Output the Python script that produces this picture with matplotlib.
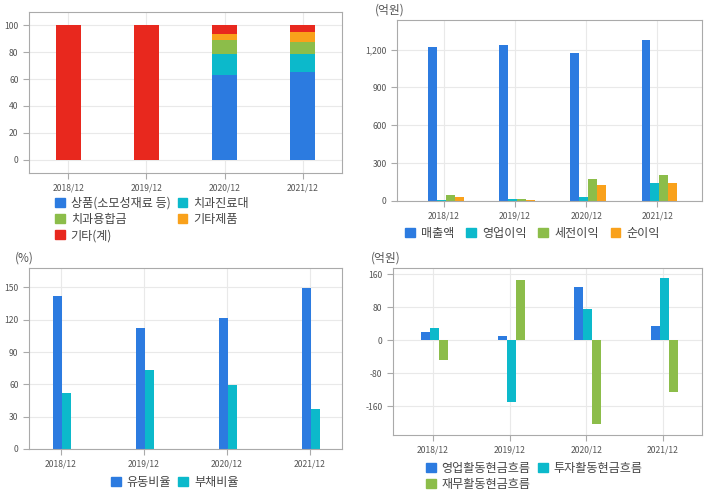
import matplotlib.pyplot as plt
import matplotlib as mpl
import numpy as np

mpl.rcParams["font.family"] = ["Noto Sans CJK KR", "DejaVu Sans"]
mpl.rcParams["axes.unicode_minus"] = False

years = ["2018/12", "2019/12", "2020/12", "2021/12"]

# 매출구성 (%)
mix_labels = ["상품(소모성재료 등)", "치과진료대", "치과용합금", "기타제품", "기타(계)"]
mix_goods = [0, 0, 63.0, 65.5]
mix_chair = [0, 0, 15.6, 13.3]
mix_alloy = [0, 0, 10.3, 8.6]
mix_etcprod = [0, 0, 4.7, 7.4]
mix_etc = [100, 100, 6.4, 5.2]

# 손익 (억원)
pl_labels = ["매출액", "영업이익", "세전이익", "순이익"]
sales = [1221, 1239, 1176, 1276]
op_profit = [8, 18, 34, 140]
pretax = [50, 18, 177, 208]
net = [34, 10, 129, 140]

# 비율 (%)
ratio_labels = ["유동비율", "부채비율"]
current_ratio = [142.2, 112.5, 122.0, 149.7]
debt_ratio = [52.0, 73.4, 59.5, 37.2]

# 현금흐름 (억원)
cf_labels = ["영업활동현금흐름", "투자활동현금흐름", "재무활동현금흐름"]
cf_op = [20, 10.5, 129, 35]
cf_inv = [30, -151, 76, 150]
cf_fin = [-48, 147, -203, -125]

BLUE = "#2c7be0"
CYAN = "#0cb9cb"
GREEN = "#8cbd4a"
ORANGE = "#f9a11b"
RED = "#e8281e"
GRID = "#e9e9e9"
SPINE = "#aaaaaa"
TXT = "#555555"

W, H = 720, 496
fig = plt.figure(figsize=(7.2, 4.96), dpi=100)


def make_ax(l, r, t, b):
    ax = fig.add_axes([l / W, 1 - b / H, (r - l) / W, (b - t) / H])
    for s in ax.spines.values():
        s.set_color(SPINE)
    ax.grid(True, color=GRID, linewidth=0.8)
    ax.set_axisbelow(True)
    ax.tick_params(colors=SPINE, labelcolor=TXT, labelsize=6.2, length=4, width=0.8)
    return ax


def legend_box(colors, labels, x, y, ncol, colsp=0.8, order=None):
    h = [plt.Rectangle((0, 0), 1, 1, color=c) for c in colors]
    l = list(labels)
    if order is not None:
        # matplotlib fills columns first, the reference fills rows
        h = [h[i] for i in order]
        l = [l[i] for i in order]
    fig.legend(h, l, loc="upper left", bbox_to_anchor=(x / W, 1 - y / H), ncol=ncol,
               frameon=False, fontsize=8.7, handlelength=0.8, handleheight=0.8,
               handletextpad=0.5, columnspacing=colsp, labelspacing=0.25,
               borderaxespad=0, borderpad=0, labelcolor="#444444")


x = np.arange(len(years))

# --- 매출구성
ax1 = make_ax(29, 342, 12, 173)
bw = 0.32
bottom = np.zeros(4)
for vals, c in zip([mix_goods, mix_chair, mix_alloy, mix_etcprod, mix_etc],
                   [BLUE, CYAN, GREEN, ORANGE, RED]):
    ax1.bar(x, vals, bw, bottom=bottom, color=c)
    bottom += np.array(vals)
ax1.set_xlim(-0.5, 3.5)
ax1.set_ylim(-10, 110)
ax1.set_yticks([0, 20, 40, 60, 80, 100])
ax1.set_xticks(x, years)
legend_box([BLUE, CYAN, GREEN, ORANGE, RED], mix_labels, 55, 197, 2, 0.6, [0, 2, 4, 1, 3])

# --- 손익
ax2 = make_ax(397, 702, 20, 201)
w = 0.125
for i, (vals, c) in enumerate(zip([sales, op_profit, pretax, net], [BLUE, CYAN, GREEN, ORANGE])):
    ax2.bar(x + (i - 1.5) * w + 0.03, vals, w, color=c)
ax2.set_xlim(-0.66, 3.63)
ax2.set_ylim(0, 1435)
ax2.set_yticks([0, 300, 600, 900, 1200], ["0", "300", "600", "900", "1,200"])
ax2.set_xticks(x, years)
fig.text(375 / W, 1 - 10 / H, "(억원)", fontsize=8.5, color=TXT, va="center")
legend_box([BLUE, CYAN, GREEN, ORANGE], pl_labels, 405, 227, 4, 1.0)

# --- 비율
ax3 = make_ax(29, 342, 268, 449)
w = 0.105
ax3.bar(x - w / 2 + 0.01, current_ratio, w, color=BLUE)
ax3.bar(x + w / 2 + 0.01, debt_ratio, w, color=CYAN)
ax3.set_xlim(-0.385, 3.385)
ax3.set_ylim(0, 168)
ax3.set_yticks([0, 30, 60, 90, 120, 150])
ax3.set_xticks(x, years)
fig.text(15 / W, 1 - 258 / H, "(%)", fontsize=8.5, color=TXT, va="center")
legend_box([BLUE, CYAN], ratio_labels, 111, 476, 2, 0.6)

# --- 현금흐름
ax4 = make_ax(393, 702, 268, 435)
w = 0.117
for i, (vals, c) in enumerate(zip([cf_op, cf_inv, cf_fin], [BLUE, CYAN, GREEN])):
    ax4.bar(x + (i - 1) * w + 0.02, vals, w, color=c)
ax4.set_xlim(-0.52, 3.51)
ax4.set_ylim(-230, 175)
ax4.set_yticks([-160, -80, 0, 80, 160])
ax4.set_xticks(x, years)
fig.text(371 / W, 1 - 258 / H, "(억원)", fontsize=8.5, color=TXT, va="center")
legend_box([BLUE, CYAN, GREEN], cf_labels, 426, 462, 2, 0.6, [0, 2, 1])

fig.savefig("out.png", dpi=100)
